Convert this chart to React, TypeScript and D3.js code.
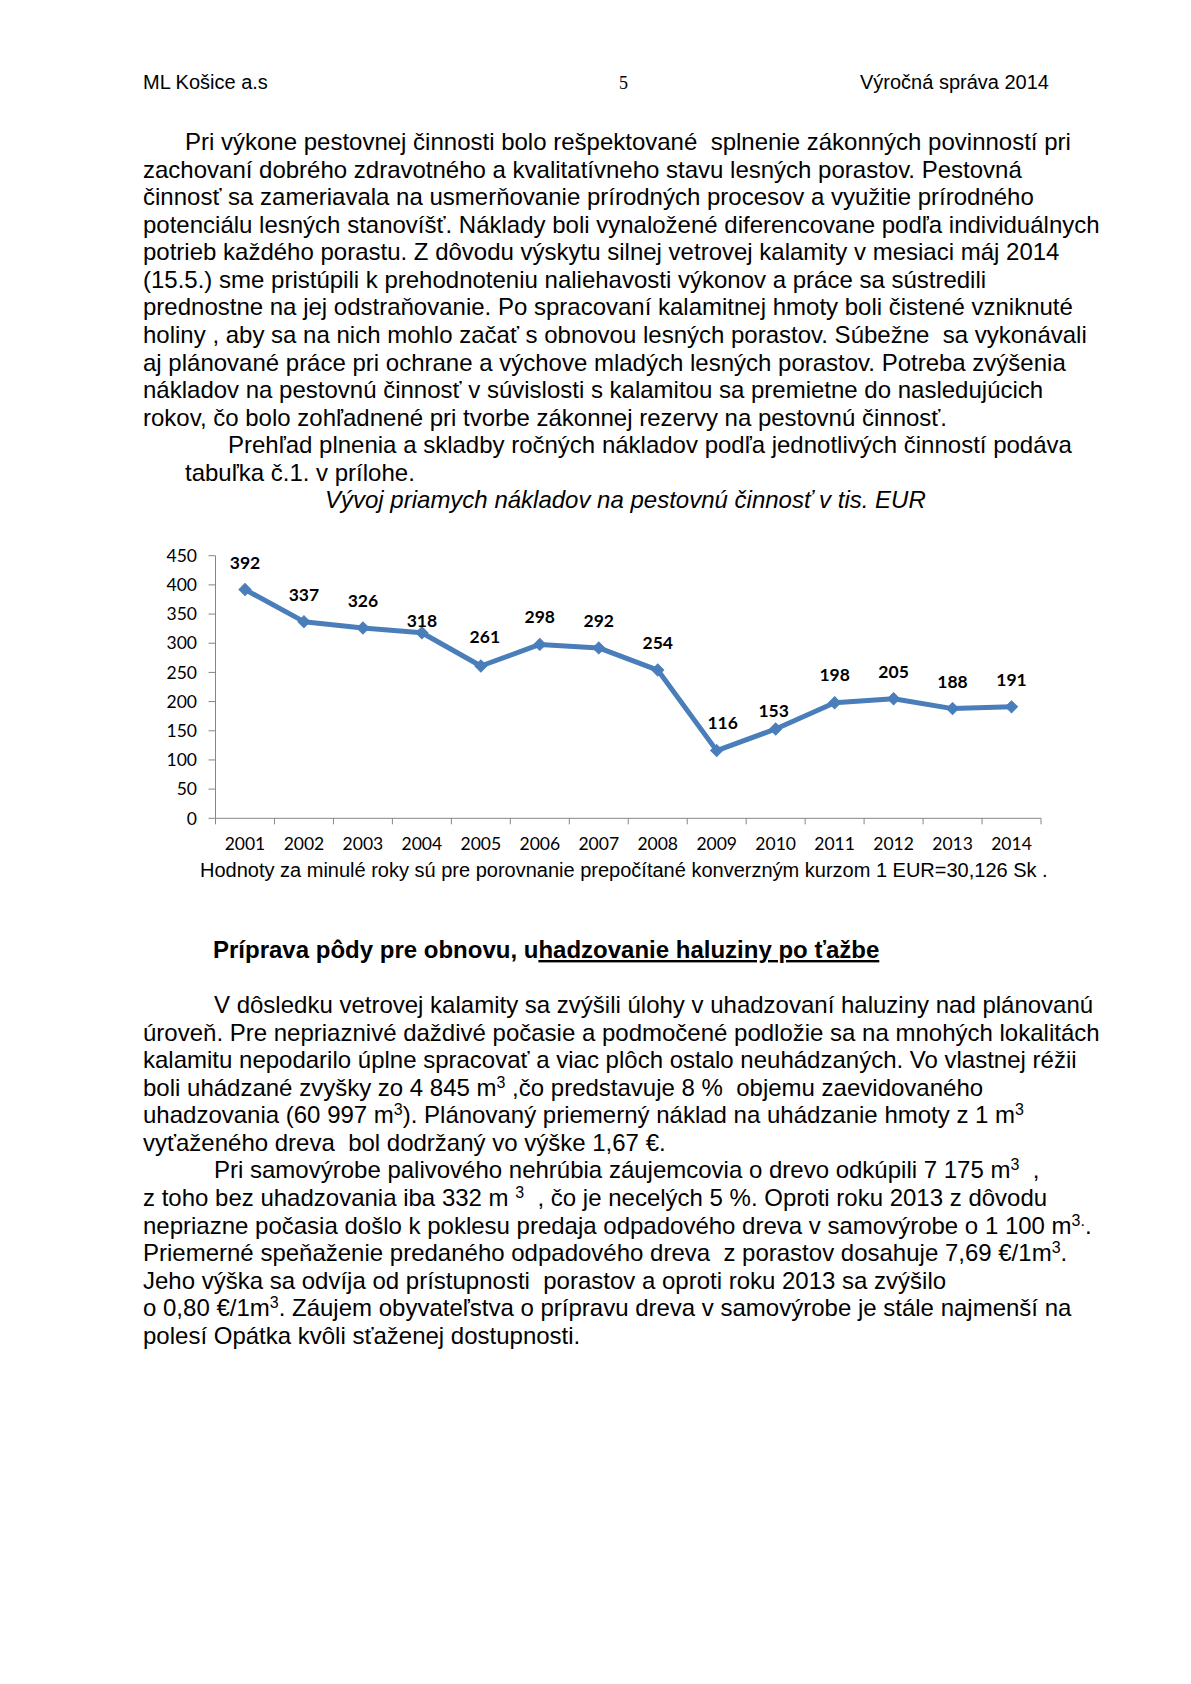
import React from 'react';
import * as d3 from 'd3';

const years = ['2001','2002','2003','2004','2005','2006','2007','2008','2009','2010','2011','2012','2013','2014'];
const costs = [392,337,326,318,261,298,292,254,116,153,198,205,188,191];
const yTicks = [0,50,100,150,200,250,300,350,400,450];
// manual nudges of the data labels (dx, dy) as placed in the original
const labelDx = [0,0,0,0,4,0,0,0,6,-2,0,0,0,0];
const labelDy = [-27,-27,-27,-12,-29,-28,-27,-27,-28,-18,-28,-27,-27,-27];

type Seg = string | { sup: string };
type Line = { x: number; segs: Seg[] };

const para1: Line[] = [
  { x: 185, segs: ['Pri výkone pestovnej činnosti bolo rešpektované  splnenie zákonných povinností pri'] },
  { x: 143, segs: ['zachovaní dobrého zdravotného a kvalitatívneho stavu lesných porastov. Pestovná'] },
  { x: 143, segs: ['činnosť sa zameriavala na usmerňovanie prírodných procesov a využitie prírodného'] },
  { x: 143, segs: ['potenciálu lesných stanovíšť. Náklady boli vynaložené diferencovane podľa individuálnych'] },
  { x: 143, segs: ['potrieb každého porastu. Z dôvodu výskytu silnej vetrovej kalamity v mesiaci máj 2014'] },
  { x: 143, segs: ['(15.5.) sme pristúpili k prehodnoteniu naliehavosti výkonov a práce sa sústredili'] },
  { x: 143, segs: ['prednostne na jej odstraňovanie. Po spracovaní kalamitnej hmoty boli čistené vzniknuté'] },
  { x: 143, segs: ['holiny , aby sa na nich mohlo začať s obnovou lesných porastov. Súbežne  sa vykonávali'] },
  { x: 143, segs: ['aj plánované práce pri ochrane a výchove mladých lesných porastov. Potreba zvýšenia'] },
  { x: 143, segs: ['nákladov na pestovnú činnosť v súvislosti s kalamitou sa premietne do nasledujúcich'] },
  { x: 143, segs: ['rokov, čo bolo zohľadnené pri tvorbe zákonnej rezervy na pestovnú činnosť.'] },
  { x: 228, segs: ['Prehľad plnenia a skladby ročných nákladov podľa jednotlivých činností podáva'] },
  { x: 185, segs: ['tabuľka č.1. v prílohe.'] },
];

const para2: Line[] = [
  { x: 214, segs: ['V dôsledku vetrovej kalamity sa zvýšili úlohy v uhadzovaní haluziny nad plánovanú'] },
  { x: 143, segs: ['úroveň. Pre nepriaznivé daždivé počasie a podmočené podložie sa na mnohých lokalitách'] },
  { x: 143, segs: ['kalamitu nepodarilo úplne spracovať a viac plôch ostalo neuhádzaných. Vo vlastnej réžii'] },
  { x: 143, segs: ['boli uhádzané zvyšky zo 4 845 m', { sup: '3' }, ' ,čo predstavuje 8 %  objemu zaevidovaného'] },
  { x: 143, segs: ['uhadzovania (60 997 m', { sup: '3' }, '). Plánovaný priemerný náklad na uhádzanie hmoty z 1 m', { sup: '3' }] },
  { x: 143, segs: ['vyťaženého dreva  bol dodržaný vo výške 1,67 €.'] },
  { x: 214, segs: ['Pri samovýrobe palivového nehrúbia záujemcovia o drevo odkúpili 7 175 m', { sup: '3' }, '  ,'] },
  { x: 143, segs: ['z toho bez uhadzovania iba 332 m ', { sup: '3' }, '  , čo je necelých 5 %. Oproti roku 2013 z dôvodu'] },
  { x: 143, segs: ['nepriazne počasia došlo k poklesu predaja odpadového dreva v samovýrobe o 1 100 m', { sup: '3.' }, '.'] },
  { x: 143, segs: ['Priemerné speňaženie predaného odpadového dreva  z porastov dosahuje 7,69 €/1m', { sup: '3' }, '.'] },
  { x: 143, segs: ['Jeho výška sa odvíja od prístupnosti  porastov a oproti roku 2013 sa zvýšilo'] },
  { x: 143, segs: ['o 0,80 €/1m', { sup: '3' }, '. Záujem obyvateľstva o prípravu dreva v samovýrobe je stále najmenší na'] },
  { x: 143, segs: ['polesí Opátka kvôli sťaženej dostupnosti.'] },
];

const SANS = "'Liberation Sans', Arial, sans-serif";
const CHART_FONT = "Lato, 'Open Sans', sans-serif";
const LINE_H = 27.57;

function renderSegs(segs: Seg[]) {
  const out: React.ReactNode[] = [];
  let raised = false;
  segs.forEach((s, i) => {
    if (typeof s === 'string') {
      out.push(<tspan key={i} dy={raised ? 8 : 0}>{s}</tspan>);
      raised = false;
    } else {
      out.push(<tspan key={i} dy={-8} fontSize={16}>{s.sup}</tspan>);
      raised = true;
    }
  });
  return out;
}

function Paragraph({ lines, y0 }: { lines: Line[]; y0: number }) {
  return (
    <g fontFamily={SANS} fontSize={24} fill="#000">
      {lines.map((l, i) => (
        <text key={i} x={l.x} y={y0 + i * LINE_H} style={{ whiteSpace: 'pre' }}>
          {renderSegs(l.segs)}
        </text>
      ))}
    </g>
  );
}

export default function App() {
  const x = d3.scaleBand<string>().domain(years).range([215.5, 1041]);
  const y = d3.scaleLinear().domain([0, 450]).range([818.3, 555.7]);
  const cx = (i: number) => (x(years[i]) as number) + x.bandwidth() / 2;
  const line = d3.line<number>().x((_, i) => cx(i)).y((d) => y(d));
  const diamond = d3.symbol(d3.symbolSquare, 72)();
  const axisColor = '#868686';
  const blue = '#4A7EBB';
  const xTickPos = years.map((yr) => x(yr) as number).concat([x.range()[1]]);

  return (
    <svg width={1191} height={1684} style={{ position: 'absolute', left: 0, top: 0, background: '#fff' }}>
      <rect width={1191} height={1684} fill="#fff" />
      {/* header */}
      <text x={143} y={89} fontFamily={SANS} fontSize={20}>ML Košice a.s</text>
      <text x={623.5} y={89} fontFamily="'Liberation Serif', 'Times New Roman', serif" fontSize={18} textAnchor="middle">5</text>
      <text x={1049} y={89} fontFamily={SANS} fontSize={20} textAnchor="end">Výročná správa 2014</text>

      <Paragraph lines={para1} y0={150} />
      <text x={325} y={150 + 13 * LINE_H} fontFamily={SANS} fontSize={24} fontStyle="italic">
        Vývoj priamych nákladov na pestovnú činnosť v tis. EUR
      </text>

      {/* chart */}
      <g>
        <line x1={215.5} x2={215.5} y1={y(450)} y2={y(0)} stroke={axisColor} strokeWidth={1} />
        {yTicks.map((t) => (
          <g key={t}>
            <line x1={208.5} x2={215.5} y1={y(t)} y2={y(t)} stroke={axisColor} strokeWidth={1} />
            <text x={197} y={y(t) + 6.2} textAnchor="end" fontFamily={CHART_FONT} fontSize={17.5} fill="#000">{t}</text>
          </g>
        ))}
        <line x1={215.5} x2={1041} y1={y(0)} y2={y(0)} stroke={axisColor} strokeWidth={1} />
        {xTickPos.map((p, i) => (
          <line key={i} x1={p} x2={p} y1={y(0)} y2={y(0) + 6} stroke={axisColor} strokeWidth={1} />
        ))}
        {years.map((yr, i) => (
          <text key={yr} x={cx(i)} y={850} textAnchor="middle" fontFamily={CHART_FONT} fontSize={17.5} fill="#000">{yr}</text>
        ))}
        <path d={line(costs) || ''} fill="none" stroke={blue} strokeWidth={5} strokeLinejoin="round" strokeLinecap="round" />
        {costs.map((v, i) => (
          <path key={i} d={diamond || ''} transform={`translate(${cx(i)},${y(v)}) rotate(45)`} fill={blue} stroke={blue} strokeWidth={1} />
        ))}
        {costs.map((v, i) => (
          <text key={i} x={cx(i) + labelDx[i]} y={y(v) + labelDy[i] + 6.2} textAnchor="middle" fontFamily={CHART_FONT} fontWeight="bold" fontSize={17.5} fill="#000">{v}</text>
        ))}
      </g>
      <text x={200} y={877} fontFamily={SANS} fontSize={20} style={{ whiteSpace: 'pre' }}>
        Hodnoty za minulé roky sú pre porovnanie prepočítané konverzným kurzom 1 EUR=30,126 Sk .
      </text>

      {/* section heading */}
      <text x={213} y={958} fontFamily={SANS} fontSize={24} fontWeight="bold">
        <tspan>Príprava pôdy pre obnovu, u</tspan>
        <tspan style={{ textDecoration: 'underline', textDecorationThickness: '3px', textUnderlineOffset: '3px' } as React.CSSProperties}>hadzovanie haluziny po ťažbe</tspan>
      </text>

      <Paragraph lines={para2} y0={1013} />
    </svg>
  );
}
